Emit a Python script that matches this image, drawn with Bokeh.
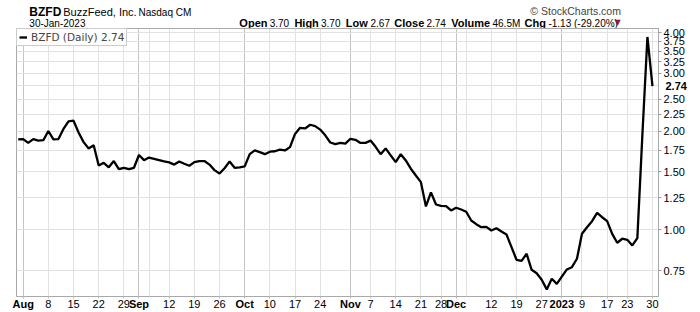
import pandas as pd
from bokeh.plotting import figure
from bokeh.layouts import column
from bokeh.models import (FixedTicker, NumeralTickFormatter, Grid, ColumnDataSource,
                          Legend, LegendItem, Range1d, LinearAxis, LogAxis)
from bokeh.core.properties import value
from bokeh.embed import file_html
from bokeh.resources import INLINE

# ---------------- data ----------------
holidays = ["2022-09-05", "2022-11-24", "2022-12-26", "2023-01-02", "2023-01-16"]
dates = pd.bdate_range("2022-07-29", "2023-01-30", freq="C", holidays=holidays)

closes = [
    1.885,
    1.89, 1.84, 1.89, 1.87, 1.875, 2.00, 1.885, 1.89, 2.03, 2.14,
    2.15, 1.98, 1.85, 1.77, 1.81, 1.57, 1.60, 1.55, 1.62, 1.53,
    1.545, 1.53, 1.545,
    1.69, 1.63, 1.66, 1.645, 1.63, 1.615, 1.605, 1.58, 1.615, 1.59,
    1.567, 1.607, 1.62, 1.62, 1.58, 1.52, 1.485, 1.54, 1.615, 1.545,
    1.55,
    1.56, 1.70, 1.745, 1.725, 1.70, 1.73, 1.735, 1.756, 1.745, 1.786,
    1.96, 2.045, 2.036, 2.09, 2.07, 2.02, 1.94, 1.845, 1.825, 1.84,
    1.83,
    1.894, 1.88, 1.84, 1.84, 1.87, 1.79, 1.70, 1.77, 1.685, 1.607,
    1.70, 1.627, 1.535, 1.464, 1.397, 1.178, 1.30, 1.194, 1.183, 1.18,
    1.145,
    1.167, 1.153, 1.135, 1.067, 1.04, 1.018, 1.021, 0.995, 1.011, 0.988,
    0.968, 0.885, 0.81, 0.804, 0.845, 0.755, 0.737, 0.704, 0.658, 0.709,
    0.684,
    0.72, 0.757, 0.769, 0.816, 0.972, 1.018, 1.062, 1.126, 1.092, 1.062,
    0.972, 0.913, 0.939, 0.932, 0.896, 0.943, 1.95, 3.87, 2.74,
]

day_tick_dates = ["2022-08-08", "2022-08-15", "2022-08-22", "2022-08-29",
                  "2022-09-12", "2022-09-19", "2022-09-26",
                  "2022-10-10", "2022-10-17", "2022-10-24",
                  "2022-11-07", "2022-11-14", "2022-11-21", "2022-11-28",
                  "2022-12-12", "2022-12-19", "2022-12-27",
                  "2023-01-09", "2023-01-17", "2023-01-23", "2023-01-30"]
day_tick_labels = ["8", "15", "22", "29", "12", "19", "26", "10", "17", "24",
                   "7", "14", "21", "28", "12", "19", "27", "9", "17", "23", "30"]
month_tick_dates = ["2022-08-01", "2022-09-01", "2022-10-03", "2022-11-01",
                    "2022-12-01", "2023-01-03"]
month_tick_labels = ["Aug", "Sep", "Oct", "Nov", "Dec", "2023"]
extra_grid_dates = ["2022-09-06", "2022-12-05"]

price_ticks = [0.75, 1.0, 1.25, 1.5, 1.75, 2.0, 2.25, 2.5, 3.0, 3.25, 3.5, 3.75, 4.0]
price_grid = [0.75, 1.0, 1.25, 1.5, 1.75, 2.0, 2.25, 2.5, 2.75, 3.0, 3.25, 3.5, 3.75, 4.0]

# header texts
title_symbol = "BZFD"
title_name = "BuzzFeed, Inc."
title_exchange = "Nasdaq CM"
date_text = "30-Jan-2023"
quote_keys = ["Open", "High", "Low", "Close", "Volume", "Chg"]
quote_vals = ["3.70", "3.70", "2.67", "2.74", "46.5M", "-1.13 (-29.20%)"]
credit = "\u00a9 StockCharts.com"

# ---------------- build ----------------
date_str = [d.strftime("%Y-%m-%d") for d in dates]
idx = {d: i for i, d in enumerate(date_str)}
n = min(len(closes), len(date_str))
src = ColumnDataSource(dict(x=list(range(n)), close=closes[:n]))

day_pos = [idx[d] for d in day_tick_dates]
month_pos = [idx[d] for d in month_tick_dates]
extra_pos = [idx[d] for d in extra_grid_dates]

FONT = "Liberation Sans"
W = 700
HEAD_H = 28
MAIN_H = 312 - HEAD_H

# ---- header strip ----
hf = figure(width=W, height=HEAD_H, output_backend="svg", toolbar_location=None,
            title=None, x_range=Range1d(0, W), y_range=Range1d(HEAD_H, 0),
            x_axis_location=None, y_axis_location=None, min_border=0)
hf.outline_line_color = None
hf.grid.visible = False
hf.background_fill_color = "white"
hf.border_fill_color = "white"

LINE1, LINE2 = 11.5, 22.5
hf.text(x=[14], y=[LINE1], text=[title_symbol], text_font=value(FONT),
        text_font_size="12px", text_font_style="bold", text_baseline="alphabetic",
        text_color="black")
hf.text(x=[51], y=[LINE1], text=[title_name], text_font=value(FONT),
        text_font_size="11px", text_baseline="alphabetic", text_color="black")
hf.text(x=[133], y=[LINE1], text=[title_exchange], text_font=value(FONT),
        text_font_size="10px", text_baseline="alphabetic", text_color="black")
hf.text(x=[14], y=[LINE2], text=[date_text], text_font=value(FONT),
        text_font_size="10px", text_baseline="alphabetic", text_color="black")
hf.text(x=[659], y=[10.5], text=[credit], text_font=value(FONT),
        text_font_size="10.5px", text_align="right", text_baseline="alphabetic",
        text_color="#444444")

key_x = [243, 303, 359, 412, 474, 554]
val_x = [276, 332, 386, 447, 519, 580]
hf.text(x=key_x, y=[LINE2] * len(key_x), text=quote_keys, text_font=value(FONT),
        text_font_size="11px", text_font_style="bold", text_baseline="alphabetic",
        text_color="black")
hf.text(x=val_x, y=[LINE2] * len(val_x), text=quote_vals, text_font=value(FONT),
        text_font_size="10px", text_baseline="alphabetic", text_color="black")
hf.text(x=[652], y=[LINE2 - 0.5], text=["\u25BC"], text_font=value("DejaVu Sans"),
        text_font_size="8px", text_baseline="alphabetic", text_color="#8b1c2c")

# ---- main chart ----
p = figure(width=W, height=MAIN_H, output_backend="svg", toolbar_location=None,
           y_axis_type="log", x_axis_location=None, y_axis_location=None, title=None,
           x_range=Range1d(-0.33, 127.2), y_range=Range1d(0.626, 4.107),
           min_border_left=16, min_border_right=42, min_border_top=0,
           min_border_bottom=16)
p.background_fill_color = "white"
p.border_fill_color = "white"
p.outline_line_color = "#a8a8a8"
p.outline_line_width = 1
p.center = [c for c in p.center if not isinstance(c, Grid)]

# grids
p.add_layout(Grid(dimension=0, ticker=FixedTicker(ticks=day_pos + extra_pos),
                  grid_line_color="#e2e2e2"))
p.add_layout(Grid(dimension=0, ticker=FixedTicker(ticks=month_pos),
                  grid_line_color="#c4c4c4"))
p.add_layout(Grid(dimension=1, ticker=FixedTicker(ticks=price_grid),
                  grid_line_color="#e2e2e2"))

r = p.line(x="x", y="close", source=src, line_color="black", line_width=2.3)

# x axis: day numbers (regular)
day_axis = LinearAxis(ticker=FixedTicker(ticks=day_pos + month_pos))
day_axis.major_label_overrides = {**{pp: t for pp, t in zip(day_pos, day_tick_labels)},
                                  **{pp: "" for pp in month_pos}}
day_axis.major_label_text_font = FONT
day_axis.major_label_text_font_size = "11px"
day_axis.major_label_text_color = "black"
day_axis.major_label_standoff = 1
day_axis.major_tick_out = 2
day_axis.major_tick_in = 0
day_axis.minor_tick_out = 0
day_axis.major_tick_line_color = "#bbbbbb"
day_axis.axis_line_color = "#aaaaaa"
day_axis.axis_line_dash = "1 1"
p.add_layout(day_axis, "below")

# x axis: month names (bold), pulled up onto the same row
month_axis = LinearAxis(ticker=FixedTicker(ticks=month_pos))
month_axis.major_label_overrides = {pp: t for pp, t in zip(month_pos, month_tick_labels)}
month_axis.major_label_text_font = FONT
month_axis.major_label_text_font_size = "11px"
month_axis.major_label_text_font_style = "bold"
month_axis.major_label_text_color = "black"
month_axis.major_label_standoff = -13
month_axis.major_tick_out = 0
month_axis.major_tick_in = 0
month_axis.minor_tick_out = 0
month_axis.minor_tick_in = 0
month_axis.axis_line_color = None
p.add_layout(month_axis, "below")

# y axis (right, log)
ya = LogAxis(ticker=FixedTicker(ticks=price_ticks),
             formatter=NumeralTickFormatter(format="0.00"))
ya.major_label_text_font = FONT
ya.major_label_text_font_size = "11px"
ya.major_label_text_color = "black"
ya.major_label_standoff = 2
ya.major_tick_out = 3
ya.major_tick_in = 0
ya.minor_tick_out = 0
ya.minor_tick_in = 0
ya.major_tick_line_color = "#999999"
ya.axis_line_color = "#a8a8a8"
p.add_layout(ya, "right")

# last price marker on the right axis
last_axis = LogAxis(ticker=FixedTicker(ticks=[closes[-1]]),
                    formatter=NumeralTickFormatter(format="0.00"))
last_axis.major_label_text_font = FONT
last_axis.major_label_text_font_size = "11px"
last_axis.major_label_text_font_style = "bold"
last_axis.major_label_text_color = "black"
last_axis.major_label_standoff = -22
last_axis.major_tick_out = 0
last_axis.major_tick_in = 0
last_axis.minor_tick_out = 0
last_axis.minor_tick_in = 0
last_axis.axis_line_color = None
p.add_layout(last_axis, "right")

# legend
legend = Legend(items=[LegendItem(label=f"{title_symbol} (Daily) {closes[-1]:.2f}",
                                  renderers=[r])],
                location="top_left", margin=0, padding=2, spacing=0,
                label_standoff=4, glyph_width=8, glyph_height=10, label_height=10,
                label_text_font="DejaVu Sans", label_text_font_size="10.5px",
                label_text_baseline="middle",
                border_line_color="#999999", background_fill_alpha=1.0)
p.add_layout(legend)

page = column(hf, p, spacing=0)
open("out.html", "w").write(file_html(page, INLINE))
